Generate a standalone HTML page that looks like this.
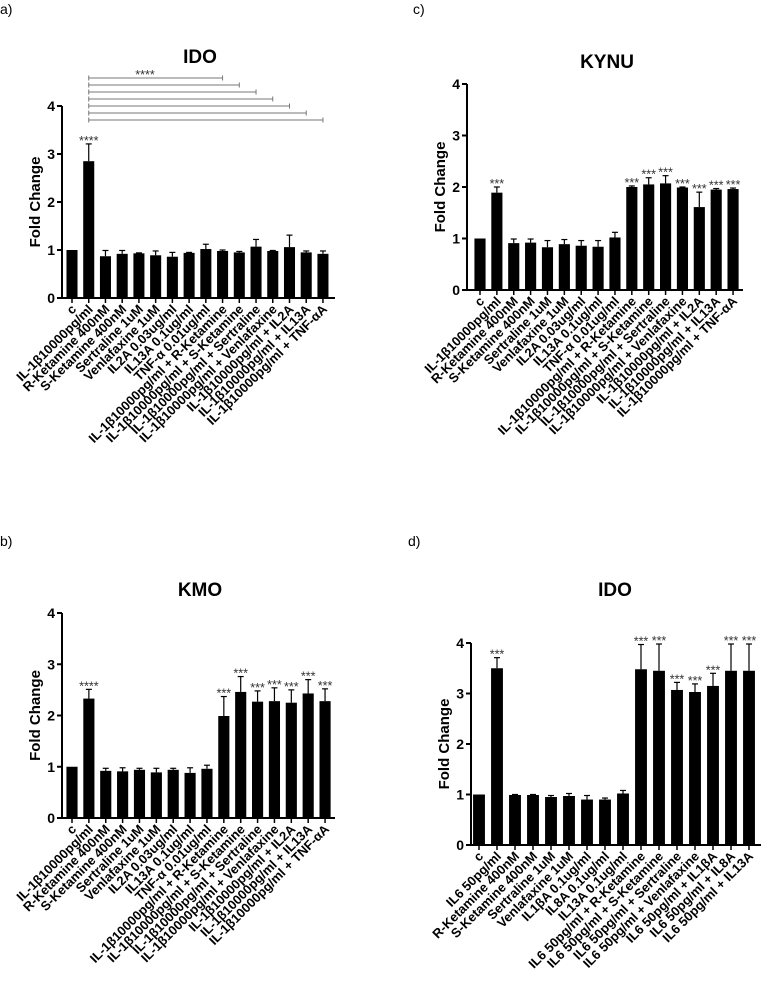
<!DOCTYPE html>
<html><head><meta charset="utf-8">
<style>
html,body{margin:0;padding:0;background:#fff;}
svg{display:block;font-family:"Liberation Sans",Arial,sans-serif;}
.tick{font-size:14px;font-weight:bold;}
.xl{font-size:13px;font-weight:bold;}
.ttl{font-size:19px;font-weight:bold;}
.yt{font-size:15px;font-weight:bold;}
.pl{font-size:14px;}
.st{font-size:12.5px;fill:#333;}
</style></head>
<body>
<svg id="fig" width="761" height="999" viewBox="0 0 761 999"></svg>
<script>
const labelsIL1 = ["c","IL-1β10000pg/ml","R-Ketamine 400nM","S-Ketamine 400nM","Sertraline 1uM","Venlafaxine 1uM","IL2A 0.03ug/ml","IL13A 0.1ug/ml","TNF-α 0.01ug/ml","IL-1β10000pg/ml + R-Ketamine","IL-1β10000pg/ml + S-Ketamine","IL-1β10000pg/ml + Sertraline","IL-1β10000pg/ml + Venlafaxine","IL-1β10000pg/ml + IL2A","IL-1β10000pg/ml + IL13A","IL-1β10000pg/ml + TNF-αA"];
const labelsIL6 = ["c","IL6 50pg/ml","R-Ketamine 400nM","S-Ketamine 400nM","Sertraline 1uM","Venlafaxine 1uM","IL1βA 0.1ug/ml","IL8A 0.1ug/ml","IL13A 0.1ug/ml","IL6 50pg/ml + R-Ketamine","IL6 50pg/ml + S-Ketamine","IL6 50pg/ml + Sertraline","IL6 50pg/ml + Venlafaxine","IL6 50pg/ml + IL1βA","IL6 50pg/ml + IL8A","IL6 50pg/ml + IL13A"];
const yTicks = [0,1,2,3,4];

const valuesA = [1.0,2.85,0.87,0.92,0.93,0.89,0.86,0.94,1.02,0.98,0.95,1.07,0.98,1.06,0.95,0.92];
const errorsA = [0,0.36,0.12,0.07,0.01,0.09,0.09,0.01,0.10,0.02,0.02,0.15,0.01,0.25,0.03,0.06];
const starsA  = ["","****","","","","","","","","","","","","","",""];

const valuesC = [1.0,1.89,0.91,0.92,0.83,0.89,0.86,0.84,1.02,2.0,2.05,2.07,1.99,1.61,1.95,1.96];
const errorsC = [0,0.11,0.08,0.07,0.13,0.09,0.10,0.12,0.10,0.02,0.13,0.15,0.01,0.29,0.02,0.02];
const starsC  = ["","***","","","","","","","","***","***","***","***","***","***","***"];

const valuesB = [1.0,2.33,0.92,0.91,0.94,0.89,0.94,0.88,0.96,1.99,2.46,2.27,2.28,2.25,2.43,2.28];
const errorsB = [0,0.18,0.05,0.07,0.03,0.08,0.03,0.10,0.07,0.38,0.30,0.21,0.26,0.25,0.27,0.24];
const starsB  = ["","****","","","","","","","","***","***","***","***","***","***","***"];

const valuesD = [1.0,3.5,0.99,0.99,0.95,0.97,0.90,0.90,1.02,3.48,3.45,3.07,3.03,3.15,3.45,3.45];
const errorsD = [0,0.21,0.01,0.01,0.03,0.05,0.08,0.03,0.06,0.49,0.53,0.15,0.16,0.25,0.53,0.53];
const starsD  = ["","***","","","","","","","","***","***","***","***","***","***","***"];

const bracketEndsA = [9,10,11,12,13,14,15];

const NS="http://www.w3.org/2000/svg";
const svg=document.getElementById('fig');
function mk(tag,attrs,parent){const e=document.createElementNS(NS,tag);for(const k in attrs)e.setAttribute(k,attrs[k]);(parent||svg).appendChild(e);return e;}

function panel(cfg){
  const g=mk('g',{});
  
  
  const y=v=>cfg.y0-(v/4)*(cfg.y0-cfg.y4);
  const x=i=>cfg.x0+i*cfg.step;
  const t=mk('text',{x:cfg.tx,y:cfg.ty,'text-anchor':'middle',class:'ttl'},g);t.textContent=cfg.title;
  
  
  const p=mk('text',{x:cfg.px,y:cfg.py,class:'pl'},g);p.textContent=cfg.panel;
  
  
  const yt=mk('text',{x:0,y:0,'text-anchor':'middle',class:'yt',transform:`translate(${cfg.ax-22},${(cfg.y0+cfg.y4)/2}) rotate(-90)`},g);yt.textContent='Fold Change';
  
  
  const ya=mk('line',{x1:cfg.ax,y1:y(4),x2:cfg.ax,y2:cfg.y0+1,stroke:'#000','stroke-width':2},g);
  
  
  const xa=mk('line',{x1:cfg.ax-5,y1:cfg.y0,x2:cfg.axEnd,y2:cfg.y0,stroke:'#000','stroke-width':2},g);
  
  
  yTicks.forEach(v=>{
    mk('line',{x1:cfg.ax-5,y1:y(v),x2:cfg.ax,y2:y(v),stroke:'#000','stroke-width':2},g);
    const tl=mk('text',{x:cfg.ax-7,y:y(v)+5,'text-anchor':'end',class:'tick'},g);tl.textContent=v;
    
    
  });
  const bw=cfg.step*0.66;
  cfg.values.forEach((v,i)=>{
    const cx=x(i);
    const r=mk('rect',{x:cx-bw/2,y:y(v),width:bw,height:cfg.y0-y(v),fill:'#000'},g);
    
    
    const e=cfg.errors[i];
    if(e>0){
      mk('line',{x1:cx,y1:y(v),x2:cx,y2:y(v+e),stroke:'#000','stroke-width':1.2},g);
      mk('line',{x1:cx-3,y1:y(v+e),x2:cx+3,y2:y(v+e),stroke:'#000','stroke-width':1.2},g);
    }
    if(cfg.stars[i]){
      const s=mk('text',{x:cx,y:y(v+e)+1,'text-anchor':'middle',class:'st'},g);s.textContent=cfg.stars[i];
      
      
    }
    mk('line',{x1:cx,y1:cfg.y0,x2:cx,y2:cfg.y0+5,stroke:'#000','stroke-width':1.5},g);
    const xl=mk('text',{x:0,y:0,'text-anchor':'end',class:'xl',transform:`translate(${cx+5},${cfg.y0+12}) rotate(-45)`},g);xl.textContent=cfg.labels[i];
    
    
  });
  return {g,x,y};
}

const A=panel({name:'panel-a-ido',title:'IDO',panel:'a)',px:0,py:14,tx:200,ty:63,ax:62,axEnd:335,y0:298,y4:106,x0:72,step:16.73,values:valuesA,errors:errorsA,stars:starsA,labels:labelsIL1});
bracketEndsA.forEach((j,k)=>{
  const yy=78+k*7;
  const l=mk('line',{x1:A.x(1),y1:yy,x2:A.x(j),y2:yy,stroke:'#777','stroke-width':1},A.g);
  
  
  mk('line',{x1:A.x(1),y1:yy-2.5,x2:A.x(1),y2:yy+2.5,stroke:'#777','stroke-width':1},A.g);
  mk('line',{x1:A.x(j),y1:yy-2.5,x2:A.x(j),y2:yy+2.5,stroke:'#777','stroke-width':1},A.g);
});
const bs=mk('text',{x:145,y:79,'text-anchor':'middle',class:'st'},A.g);bs.textContent='****';



panel({name:'panel-c-kynu',title:'KYNU',panel:'c)',px:413,py:14,tx:607,ty:68,ax:467,axEnd:743,y0:290,y4:84,x0:480,step:16.87,values:valuesC,errors:errorsC,stars:starsC,labels:labelsIL1});
panel({name:'panel-b-kmo',title:'KMO',panel:'b)',px:0,py:546,tx:200,ty:596,ax:62,axEnd:335,y0:818,y4:613,x0:72,step:16.87,values:valuesB,errors:errorsB,stars:starsB,labels:labelsIL1});
panel({name:'panel-d-ido',title:'IDO',panel:'d)',px:408,py:546,tx:615,ty:596,ax:471,axEnd:761,y0:845,y4:643,x0:479,step:18,values:valuesD,errors:errorsD,stars:starsD,labels:labelsIL6});
</script>
</body></html>
